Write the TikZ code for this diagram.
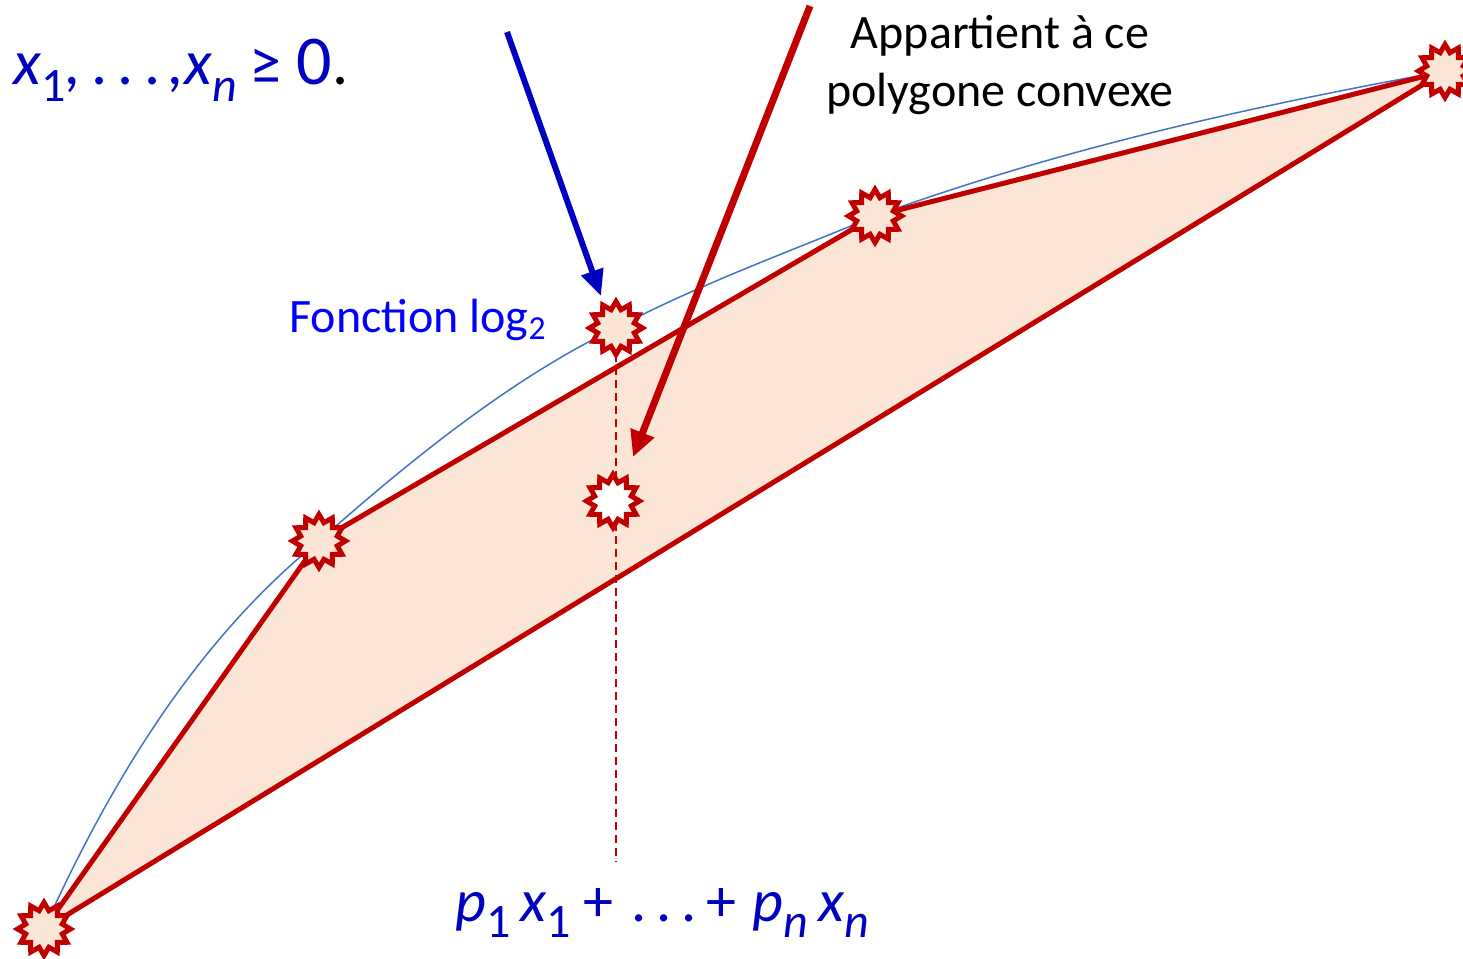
\documentclass[tikz,border=0pt]{standalone}
\usepackage{fontspec}
\setmainfont{Carlito}
\usetikzlibrary{shapes.geometric,arrows.meta}
\definecolor{dred}{HTML}{C00000}
\definecolor{peach}{HTML}{FBE5D6}
\definecolor{cblue}{HTML}{4472C4}
\definecolor{mblue}{HTML}{0000C0}
\definecolor{fblue}{HTML}{0000FF}
\newcommand\sbs[1]{\raisebox{-0.28em}{\fontsize{24}{26}\selectfont #1}}
\newcommand\dotsep{\hspace{5pt}}
\begin{document}
\begin{tikzpicture}[x=0.5pt,y=-0.5pt,
  pt/.style={star, star points=12, star point ratio=1.4, minimum size=26.5pt,
    inner sep=0pt, draw=dred, line width=2.5pt, fill=peach},
  ptw/.style={pt, fill=white},
  hull/.style={draw=dred, line width=2.5pt, line join=round},
  curv/.style={draw=cblue, line width=0.75pt},
  guide/.style={draw=dred, line width=1pt, dash pattern=on 4pt off 2.5pt},
  barrow/.style={draw=mblue, line width=3pt, -{Triangle[length=13pt,width=11pt]}},
  rarrow/.style={draw=dred, line width=3.5pt, -{Triangle[length=13pt,width=12pt]}},
  mathtxt/.style={text=mblue, inner sep=0pt},
  lbl/.style={inner sep=0pt}]
\useasboundingbox (0,0) rectangle (1463,959);
\coordinate (A) at (44,929);
\coordinate (B) at (319,541);
\coordinate (C) at (616,328);
\coordinate (D) at (875,216);
\coordinate (E) at (1445,71);
\coordinate (M) at (613,501);
\coordinate (G) at (616,862);
% filled polygon
\fill[peach] (A) -- (B) -- (D) -- (E) -- cycle;
% log curve
\draw[curv] (A) .. controls (134,729) and (228,615) .. (B)
  .. controls (417,454) and (516,376) .. (C)
  .. controls (702,283) and (789,252) .. (D)
  .. controls (1065,147) and (1254,106) .. (E);
% dashed guide
\draw[guide] (C) -- (G);
% hull edges
\draw[hull] (A) -- (B) -- (D) -- (E) -- cycle;
% stars
\node[pt] (sA) at (A) {};
\node[pt] (sB) at (B) {};
\node[pt] (sC) at (C) {};
\node[pt] (sD) at (D) {};
\node[pt] (sE) at (E) {};
\node[ptw] (sM) at (M) {};
% arrows
\coordinate (bs) at (507,32);
\coordinate (be) at (601,296);
\coordinate (rs) at (810,6);
\coordinate (re) at (633,457);
\draw[barrow] (bs) -- (be);
\draw[rarrow] (rs) -- (re);
% texts
\node[mathtxt, font=\fontsize{32}{36}\selectfont, anchor=base west] (cond) at (13,84)
  {\textit{x}\sbs{1}\textit{,}\hspace{5pt}.\hspace{5pt}.\hspace{5pt}.\hspace{4pt}\textit{,}\hspace{0pt}\textit{x}\sbs{\textit{n}}\hspace{6pt}≥\hspace{8pt}{\fontsize{35}{36}\selectfont 0}\textcolor{black}{.}};
\node[lbl, text=fblue, font=\fontsize{24}{28}\selectfont, anchor=base west] (flog) at (289,332)
  {Fonction log\textsubscript{2}};
\node[lbl, font=\fontsize{24}{29}\selectfont, align=center, anchor=north] (poly) at (1000,15)
  {Appartient à ce\\polygone convexe};
\node[mathtxt, font=\fontsize{30}{36}\selectfont, anchor=base west] (sum) at (455,921)
  {\textit{p}\sbs{1}\hspace{5pt}\textit{x}\sbs{1}\hspace{6pt}+\hspace{9pt}.\dotsep.\dotsep.\hspace{5pt}+\hspace{8pt}\textit{p}\sbs{\textit{n}}\hspace{5pt}\textit{x}\sbs{\textit{n}}};
\end{tikzpicture}
\end{document}
